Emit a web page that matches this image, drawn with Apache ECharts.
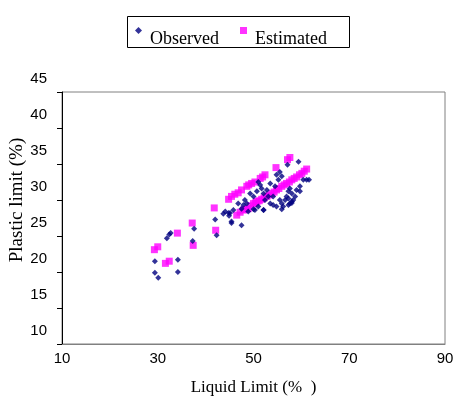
<!DOCTYPE html>
<html><head><meta charset="utf-8">
<script src="https://cdn.jsdelivr.net/npm/echarts@6/dist/echarts.min.js"></script>
<style>html,body{margin:0;padding:0;background:#fff}#c{width:454px;height:399px}</style>
</head><body><div id="c"></div>
<script>
// Observed: liquid limit (x) and plastic limit (y)
const observedLL = [32.4,31.9,32.7,29.4,29.4,30.1,34.2,34.2,37.6,37.3,42.0,42.3,45.1,44.9,45.4,
  45.4,47.5,44.8,48.2,48.6,49.3,50.0,50.7,51.4,51.7,52.1,52.4,51.0,52.1,53.5,54.1,54.8,55.9,56.2,56.6,56.9,57.3,57.6,58.0,58.3,58.7,59.0,59.7,
  59.4,57.1,54.8,55.5,55.9,53.5,54.5,55.2,57.6,58.0,60.4,61.1,59.7,55.5,54.1,52.8,53.1,51.0,50.3,48.9,47.5,47.9,46.8,45.8,43.7,44.1,
  57.3,58.0,55.9,52.1,50.0,57.3,61.6];
const observedPL = [25.2,24.7,25.4,21.5,19.9,19.2,21.7,20.0,26.0,24.3,27.3,25.1,28.2,27.8,26.8,
  27.0,26.5,28.2,30.0,29.5,30.9,30.5,31.2,32.1,31.6,30.9,30.0,29.1,28.6,29.5,29.3,29.1,29.5,29.1,30.0,30.5,31.2,31.6,30.9,30.0,30.5,31.4,31.9,
  35.3,34.9,33.5,33.9,33.3,32.3,31.9,32.8,29.5,29.8,32.8,32.8,31.2,30.0,30.5,31.4,30.5,32.5,28.6,28.4,28.8,29.3,29.5,28.6,28.1,28.4,
  30.2,29.6,28.7,28.6,28.7,29.3,32.8];
// Estimated
const estimatedLL = [29.3,30.0,34.1,31.6,32.4,37.2,37.4,41.8,42.1,
  44.8,45.4,46.1,46.8,47.5,48.6,49.0,49.6,50.3,51.4,51.9,52.4,54.7,57.1,57.6,
  46.5,47.2,47.9,48.4,48.9,49.4,50.0,50.4,50.7,51.2,51.7,52.2,52.8,53.3,53.8,54.3,54.8,55.3,55.9,56.4,56.9,57.5,58.0,58.5,59.0,59.6,60.1,60.6,61.1];
const estimatedPL = [23.1,23.5,25.4,21.2,21.5,26.8,23.7,28.9,25.8,
  30.1,30.5,30.8,31.0,31.4,31.9,32.1,32.3,32.5,33.0,33.2,33.5,34.5,35.6,35.9,
  27.9,28.3,28.6,28.7,28.8,29.2,29.5,29.6,29.8,29.9,30.1,30.3,30.5,30.7,30.9,31.1,31.4,31.6,31.9,32.1,32.3,32.5,32.8,33.0,33.2,33.5,33.7,34.0,34.3];
const xTicks = [10, 30, 50, 70, 90];
const yTicks = [10, 15, 20, 25, 30, 35, 40, 45];

const pair = (a, b) => a.map((v, i) => [v, b[i]]);
const chart = echarts.init(document.getElementById('c'), null, {renderer: 'canvas'});
chart.setOption({
  animation: false,
  backgroundColor: '#fff',
  grid: {left: 62, right: 9, top: 92, bottom: 55, show: true, borderColor: '#808080', borderWidth: 1,
    backgroundColor: 'transparent', containLabel: false, outerBoundsMode: 'none'},
  graphic: [{type: 'rect', left: 125, top: 14, shape: {width: 222, height: 31}, style: {fill: 'none', stroke: '#000', lineWidth: 1}, silent: true}],
  legend: {
    left: 124, top: 21,
    padding: [6, 22, 3, 11],
    itemGap: 21, itemWidth: 7, itemHeight: 7,
    formatter: '{t|{name}}',
    textStyle: {fontFamily: 'Liberation Serif', fontSize: 18, color: '#000',
      rich: {t: {fontFamily: 'Liberation Serif', fontSize: 18, color: '#000', padding: [17, 0, 0, 3]}}},
    data: [{name: 'Observed', icon: 'diamond'}, {name: 'Estimated', icon: 'rect'}]
  },
  xAxis: {
    type: 'value', min: xTicks[0], max: xTicks[xTicks.length - 1], interval: 20,
    axisLine: {show: true, lineStyle: {color: '#808080'}},
    axisTick: {show: false},
    splitLine: {show: false},
    axisLabel: {fontFamily: 'Liberation Sans', fontSize: 15, color: '#000', margin: 7},
    name: 'Liquid Limit (%  )', nameLocation: 'middle', nameGap: 35,
    nameTextStyle: {fontFamily: 'Liberation Serif', fontSize: 17, color: '#000'}
  },
  yAxis: {
    type: 'value', min: yTicks[0], max: yTicks[yTicks.length - 1], interval: 5,
    axisLine: {show: true, lineStyle: {color: '#000'}},
    axisTick: {show: true, inside: false, length: 5, lineStyle: {color: '#000'}},
    splitLine: {show: false},
    axisLabel: {fontFamily: 'Liberation Sans', fontSize: 15, color: '#000', margin: 15, verticalAlign: 'bottom', lineHeight: 26},
    name: 'Plastic limit (%)', nameLocation: 'middle', nameGap: 35, nameMoveOverlap: false,
    nameTextStyle: {fontFamily: 'Liberation Serif', fontSize: 19, color: '#000', padding: [0, 0, 0, 36]}
  },
  series: [
    {name: 'Estimated', type: 'scatter', symbol: 'rect', symbolSize: 7, itemStyle: {color: '#FF00FF'}, data: pair(estimatedLL, estimatedPL), z: 2},
    {name: 'Observed', type: 'scatter', symbol: 'diamond', symbolSize: 6, itemStyle: {color: '#000080'}, data: pair(observedLL, observedPL), z: 3}
  ]
});
</script></body></html>
